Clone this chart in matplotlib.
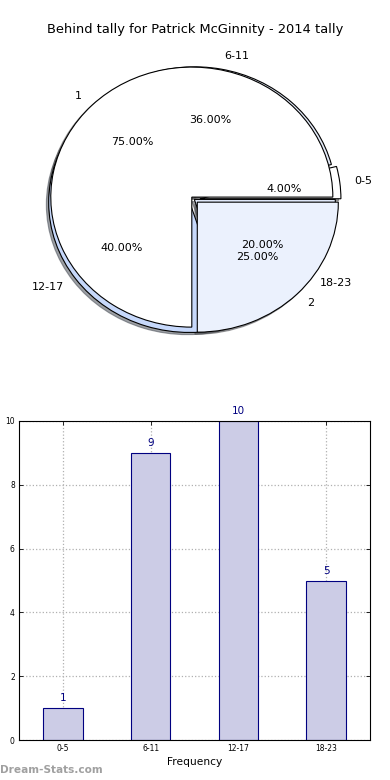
import matplotlib
matplotlib.use("Agg")
import matplotlib.pyplot as plt

# data
age_groups = ["0-5", "6-11", "12-17", "18-23"]
behinds = [1, 9, 10, 5]
half_labels = ["1", "2"]
half_share = [75, 25]

fig = plt.figure(figsize=(3.9, 7.8), dpi=100)

# --- pie part ---
ax1 = fig.add_axes([0.0462, 0.536, 0.904, 0.4167])
fig.text(0.5, 1 - 30 / 780, "Behind tally for Patrick McGinnity - 2014 tally",
         ha="center", va="center", fontsize=9.4)

wp = dict(edgecolor="black", linewidth=0.8)
shadow = dict(ox=-0.012, oy=-0.012)
ax1.pie(behinds, labels=age_groups, autopct="%.2f%%",
        colors=["white", "#e3eaf8", "#c6d8fb", "#dfe7f8"],
        explode=(0.04, 0.02, 0.04, 0.0), shadow=shadow, wedgeprops=wp,
        textprops=dict(fontsize=8))
ax1.pie(half_share, labels=half_labels, autopct="%.2f%%",
        colors=["white", "#ebf1fd"], explode=(0.025, 0.03),
        shadow=shadow, wedgeprops=wp, textprops=dict(fontsize=8))
ax1.set_aspect("auto")
ax1.set_xlim(-1.25, 1.25)
ax1.set_ylim(-1.25, 1.25)
ax1.axis("off")

# --- bar part ---
ax2 = fig.add_axes([19 / 390, 40 / 780, 351 / 390, 319 / 780])
xpos = list(range(len(age_groups)))
bars = ax2.bar(xpos, behinds, width=0.45, color="#cccce6", edgecolor="navy",
               linewidth=0.8, zorder=2)
for b, v in zip(bars, behinds):
    ax2.text(b.get_x() + b.get_width() / 2, v + 0.15, str(v), ha="center",
             va="bottom", color="navy", fontsize=7.5, clip_on=False)

ax2.set_xlim(-0.5, 3.5)
ax2.set_ylim(0, 10)
ax2.set_xticks(xpos)
ax2.set_xticklabels(age_groups)
ax2.set_yticks(range(0, 11, 2))
ax2.tick_params(labelsize=5.5, direction="in", top=True, right=True,
                length=3, width=0.6, pad=3)
ax2.grid(True, linestyle=":", color="#b0b0b0", linewidth=0.9, zorder=0)
ax2.set_axisbelow(True)
ax2.set_xlabel("Frequency", fontsize=7.7, labelpad=3)
ax2.set_ylabel("Behind Tally", fontsize=7.5)
ax2.yaxis.set_label_coords(-0.056, 0.5)

fig.text(0.0, 10 / 780, "Dream-Stats.com", fontsize=7.6, color="#a0a0a0",
         weight="bold", ha="left", va="center")

fig.savefig("out.png", dpi=100)
